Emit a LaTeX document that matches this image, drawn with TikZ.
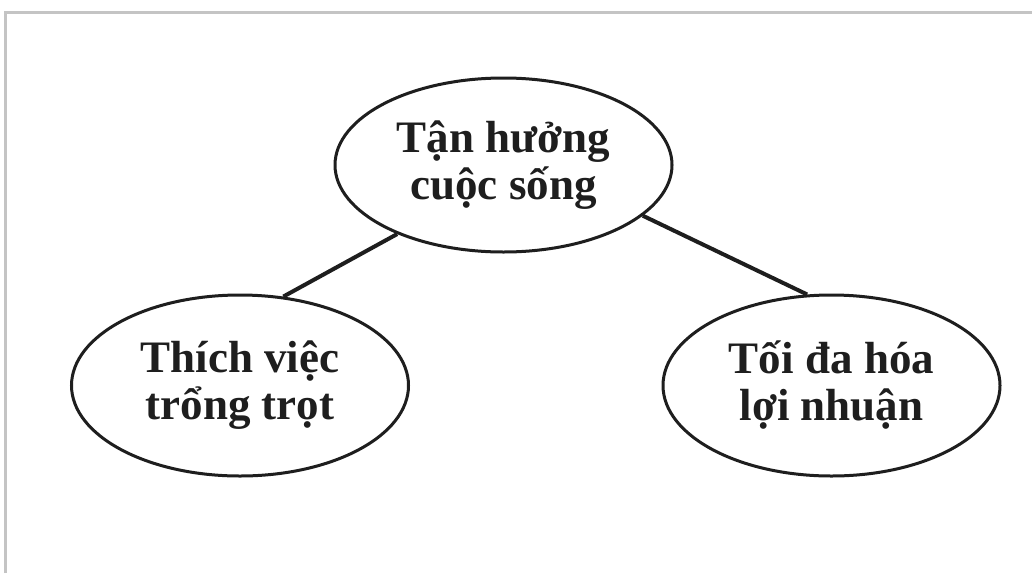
\documentclass[tikz,border=0pt]{standalone}
\usepackage{fontspec}
\setmainfont{Liberation Serif}
\usetikzlibrary{shapes.geometric}
\definecolor{framegray}{HTML}{C4C4C4}
\definecolor{inkc}{HTML}{1E1E1E}
\tikzset{
  oval/.style={ellipse, draw=inkc, line width=3pt, inner sep=0pt, align=center,
    font=\bfseries\fontsize{45pt}{47pt}\selectfont, text=inkc},
  link/.style={draw=inkc, line width=4pt},
  framel/.style={draw=framegray, line width=3pt}
}
\begin{document}
\begin{tikzpicture}[x=1pt,y=-1pt]
\useasboundingbox[fill=white] (0,0) rectangle (1032,573);
\coordinate (ftl) at (5,12.5);
\coordinate (fbl) at (5,573);
\coordinate (ftr) at (1032,12.5);
\draw[framel] (fbl) -- (ftl) -- (ftr);
\node[oval, minimum width=337pt, minimum height=174pt] (top) at (503.5,165) {Tận hưởng\\cuộc sống};
\node[oval, minimum width=337pt, minimum height=181pt] (left) at (240,385.5) {Thích việc\\trổng trọt};
\node[oval, minimum width=337pt, minimum height=181pt] (right) at (831.5,385.5) {Tối đa hóa\\lợi nhuận};
\draw[link] (top.213) -- (left.64.6);
\draw[link] (top.-20.3) -- (right.105.1);
\end{tikzpicture}
\end{document}
